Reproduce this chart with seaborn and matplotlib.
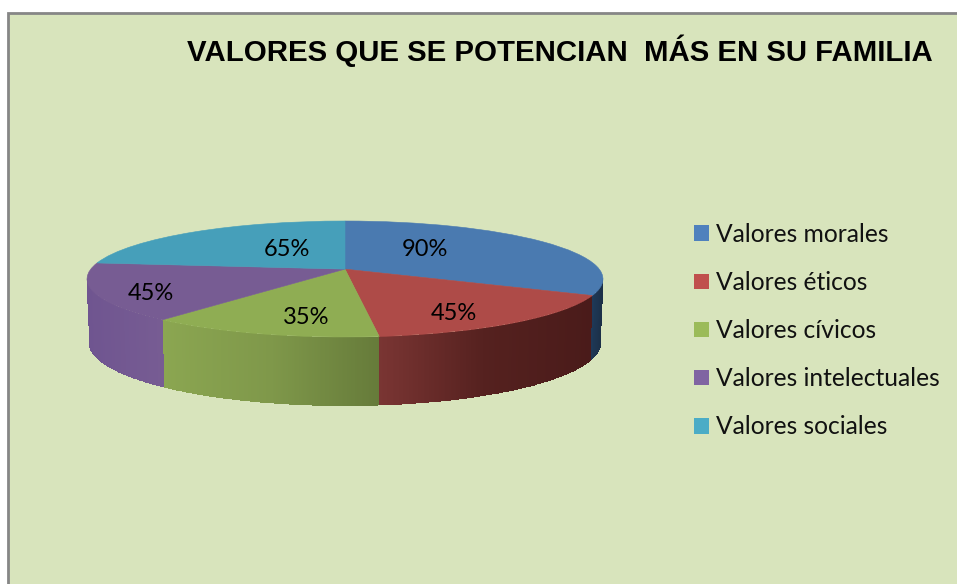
import numpy as np
import matplotlib
matplotlib.use('Agg')
import matplotlib.pyplot as plt
from matplotlib.patches import Patch, Rectangle
from matplotlib.transforms import Transform
import seaborn as sns

title = 'VALORES QUE SE POTENCIAN  MÁS EN SU FAMILIA'
categories = ['Valores morales', 'Valores éticos', 'Valores cívicos', 'Valores intelectuales', 'Valores sociales']
values = [90, 45, 35, 45, 65]

top_colors = ['#4A7AB0', '#AE4B48', '#8FAD53', '#775C93', '#469FBA']
legend_colors = ['#4F81BD', '#C0504D', '#9BBB59', '#8064A2', '#4BACC6']
wall_colors = [['#1E3A5A', '#1C3048'],
               ['#7A3533', '#55211F', '#4A1B1A'],
               ['#8BA651', '#7F984A', '#667B3A'],
               ['#6F5590', '#775C93'],
               ['#469FBA', '#469FBA']]
# centros de las etiquetas, en pixeles
label_pos = [(425, 249), (454, 313), (306, 317), (151, 293), (287, 249)]

sns.set_theme(style='white')
plt.rcParams['font.family'] = ['Lato', 'DejaVu Sans']

cx, cy, rx, ry = 345, 279, 258, 58
tilt = 0.17


# perspectiva: el circulo sigue siendo elipse pero el centro sube
def project(x, y):
    d = 1 + tilt * y
    return x * np.sqrt(1 - tilt ** 2) / d, (y + tilt) / d


class Perspective(Transform):
    input_dims = 2
    output_dims = 2

    def transform_non_affine(self, values):
        values = np.asarray(values)
        px, py = project(values[:, 0], values[:, 1])
        return np.column_stack([cx + rx * px, cy - ry * py])


fig = plt.figure(figsize=(9.57, 5.84), dpi=100, facecolor='white')
ax = fig.add_axes([0, 0, 1, 1])

wedges, _ = ax.pie(values, colors=top_colors, startangle=90, counterclock=False,
                   wedgeprops={'linewidth': 0.4, 'zorder': 3})
ax.set_xlim(0, 957)
ax.set_ylim(584, 0)
ax.set_axis_off()

ax.add_patch(Rectangle((8, 13), 1000, 1000, facecolor='#D8E4BC', edgecolor='#868686', linewidth=2, zorder=0))

for wedge, color in zip(wedges, top_colors):
    wedge.set_edgecolor(color)
    wedge.set_transform(Perspective() + ax.transData)

# pared lateral, sacada de los angulos de cada porcion
for wedge, stops in zip(wedges, wall_colors):
    t = np.radians(np.linspace(wedge.theta1, wedge.theta2, 200))
    px, py = project(np.cos(t), np.sin(t))
    keep = py <= 0.005
    if keep.sum() < 2:
        continue
    px, py = px[keep], py[keep]
    x_top = cx + rx * px
    y_top = cy - ry * py
    x_bot = cx + 0.99 * rx * px
    y_bot = y_top + 64 - 5 * py
    X = np.vstack([x_top, x_bot])
    Y = np.vstack([y_top, y_bot])
    mid = (x_top[:-1] + x_top[1:]) / 2
    C = ((mid - x_top.min()) / (x_top.max() - x_top.min()))[None, :]
    ax.pcolormesh(X, Y, C, cmap=sns.blend_palette(stops, as_cmap=True), vmin=0, vmax=1,
                  shading='flat', zorder=2, antialiased=False, edgecolors='none')

ax.set_xlim(0, 957)
ax.set_ylim(584, 0)

for v, (lx, ly) in zip(values, label_pos):
    ax.text(lx, ly, f'{v}%', ha='center', va='center', fontsize=17, color='black', zorder=5)

ax.text(560, 51, title, ha='center', va='center', fontsize=21.2, fontweight='bold',
        family='Liberation Sans', color='black', zorder=5)

handles = [Patch(facecolor=c, edgecolor='none') for c in legend_colors]
ax.legend(handles, categories, loc='upper left', bbox_to_anchor=(694, 223), bbox_transform=ax.transData,
          frameon=False, fontsize=17.7, labelspacing=1.02, handlelength=0.61, handleheight=0.61,
          handletextpad=0.28, borderpad=0, borderaxespad=0, labelcolor='#111111')

fig.savefig('out.png', dpi=100)
